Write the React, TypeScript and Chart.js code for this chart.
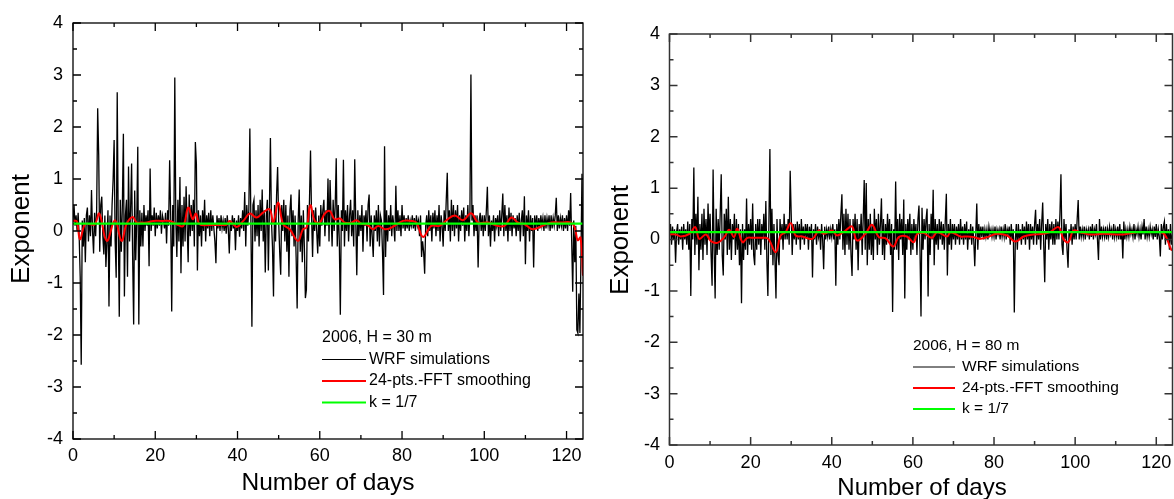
import React, { useEffect, useRef } from "react";
import { Chart, registerables } from "chart.js";

Chart.register(...registerables);

const FONT = '"Liberation Sans", Arial, Helvetica, sans-serif';

// ---------- axes ----------
const dayMin = 0;
const dayMax = 124;
const exponentMin = -4;
const exponentMax = 4;
const xTickValues = [0, 20, 40, 60, 80, 100, 120];
const xMinorValues = [10, 30, 50, 70, 90, 110];
const yTickValues = [-4, -3, -2, -1, 0, 1, 2, 3, 4];
const yMinorValues = [-3.5, -2.5, -1.5, -0.5, 0.5, 1.5, 2.5, 3.5];

// ---------- series ----------
const seriesLabels = ["WRF simulations", "24-pts.-FFT smoothing", "k = 1/7"];
const kValue = 1 / 7;
const wrfStepDays = 0.25; // one WRF value every 6 hours, starting at day 0

// H = 30 m
const wrf30Values = [
  0.2,0.5,0.1,0.3, 0.0,0.35,-0.1,-0.88, -2.57,0.2,-0.3,0.25, -0.6,0.3,0.45,-0.2, 0.3,-0.1,0.79,0.0,
  -0.43,0.35,-0.1,0.4, 2.36,1.46,-0.4,0.5, 0.66,-0.1,-0.45,0.3, -0.69,-0.2,0.4,-1.45, 0.3,-0.3,0.5,0.98,
  1.75,-0.2,-0.9,2.67, 0.1,-1.65,0.6,-0.4, 0.5,1.87,-1.26,0.3, 0.6,-0.88,1.24,-0.2, 0.4,1.3,-0.5,-1.8,
  0.78,-0.56,0.2,1.62, -1.8,0.4,-0.3,0.35, -0.3,0.5,0.0,0.3, 0.1,0.4,-0.68,1.2, 0.0,0.3,0.1,0.45,
  -0.1,0.35,0.05,0.3, 0.1,0.4,-0.05,0.3, 0.2,0.05,0.35,-0.24, 0.4,0.1,1.36,0.3, -1.55,0.5,-0.3,2.95,
  0.2,-0.5,0.6,-0.2, 1.04,-0.81,0.5,-0.3, 0.66,-0.2,0.86,0.1, -0.6,0.7,-0.1,0.5, 0.0,0.6,-0.3,1.71,
  1.3,-0.76,0.4,-0.1, 0.3,-0.3,0.4,0.0, 0.6,-0.2,0.3,0.05, 0.35,-0.1,0.4,0.0, 0.3,0.05,-0.2,-0.62,
  0.3,0.05,0.25,0.0, 0.3,0.05,0.2,0.0, 0.25,-0.05,0.3,0.05, -0.43,0.2,0.0,0.3, 0.05,0.25,-0.37,0.2,
  0.0,0.3,-0.11,0.25, 0.05,0.4,0.0,0.75, -0.3,0.5,0.1,0.4, 1.97,0.2,-1.84,0.5, 0.6,-0.2,0.4,-0.1,
  0.5,-0.3,0.6,0.0, 0.8,-0.2,0.4,-0.8, 0.3,0.6,-0.76,0.4, 1.79,0.2,-0.3,-1.26, 0.5,-0.2,0.7,1.23,
  0.2,-0.4,-0.84,0.5, 0.0,0.6,-0.2,0.5, -0.4,0.3,-0.88,0.4, 0.7,-0.1,0.4,-0.3, 0.3,-0.5,-1.49,0.2,
  0.8,-0.4,0.3,-0.6, 0.4,-0.3,-1.29,-1.13, 0.5,-0.2,0.6,1.55, 0.3,-0.5,0.4,0.0, 0.45,0.0,-0.43,0.3,
  -0.3,0.5,0.1,0.4, 0.6,-0.1,0.4,0.1, 1.01,-0.2,0.98,0.3, -0.3,0.6,0.0,0.5, 1.4,-0.3,0.5,-0.2,
  -1.61,0.4,0.0,1.37, -0.3,0.4,0.0,0.5, -0.2,0.3,0.6,-0.1, 0.4,-0.3,1.38,0.2, -0.85,0.4,-0.1,0.3,
  0.0,0.5,-0.4,0.3, 0.1,0.4,-0.2,0.5, 0.7,-0.3,0.3,-0.1, -0.5,0.3,0.0,0.4, -0.2,0.5,-0.3,0.3,
  0.2,-0.4,-1.23,1.63, -0.5,0.4,-0.2,0.3, 0.0,0.5,-0.1,0.3, 0.1,-0.2,0.87,0.0, 0.4,0.0,0.3,-0.1,
  0.5,0.05,0.3,0.0, 0.25,0.05,0.3,0.0, 0.2,0.1,0.3,0.05, 0.25,0.0,0.3,0.1, 0.2,-0.1,0.3,-0.5,
  -0.2,-0.4,-0.82,0.1, 0.3,-0.1,0.4,0.0, 0.3,-0.2,0.35,0.05, 0.4,-0.1,0.3,0.0, 0.5,-0.2,0.3,0.1,
  -0.3,0.4,0.0,0.6, 1.12,0.0,0.4,-0.2, 0.6,0.0,0.5,-0.1, 0.4,0.05,0.5,-0.2, 0.3,0.0,0.4,0.1,
  0.45,-0.2,0.3,0.0, 0.5,-0.1,0.3,3.01, 0.2,0.5,-0.1,0.3, 0.0,0.3,-0.7,0.2, 0.35,0.0,0.3,-0.1,
  0.3,0.0,0.4,0.85, -0.1,0.3,-0.3,0.2, 0.0,0.3,-0.2,0.25, 0.1,0.3,-0.1,0.4, 0.0,0.3,0.72,-0.1,
  0.5,0.0,0.3,-0.2, 0.45,0.0,0.35,-0.1, 0.3,0.05,0.25,-0.1, 0.3,0.0,0.35,-0.2, 0.2,0.4,-0.1,0.67,
  -0.64,0.3,0.0,0.4, -0.2,0.3,0.0,0.25, -0.7,0.3,0.05,0.3, 0.0,0.25,0.05,0.3, 0.1,0.25,0.0,0.3,
  0.05,0.25,0.1,0.3, 0.0,0.3,0.05,0.25, 0.1,0.3,0.64,0.0, 0.3,0.05,0.25,0.1, 0.3,0.0,0.25,0.05,
  0.3,0.0,0.4,0.1, 0.73,-0.2,-1.17,0.2, -0.6,0.1,-1.9,-1.96, -1.2,-1.96,-0.5,1.1, -0.8,
];
const fft30Days = [
  0,0.9,1.7,2.9,4.1,5.3,6.4,8.2,10.2,11.8,13.0,14.5,15.5,16.7,17.9,19.5,21.5,23.6,25.2,26.8,
  28.0,29.1,29.9,30.8,33.3,35.7,37.3,38.1,39.8,41.4,43.0,44.6,46.2,47.8,48.7,49.9,51.1,52.7,54.7,55.9,
  56.8,57.7,58.8,60.0,61.2,62.4,63.6,64.9,66.1,67.7,68.9,70.1,71.7,72.95,74.2,75.8,77.4,80.2,82.3,83.5,
  85.1,87.1,89.1,90.8,92.8,94.8,96.8,98.5,100.9,103.3,104.9,106.6,108.2,109.8,111.8,114.7,116.3,118.7,121.1,122.0,
  122.7,123.4,124,
];
const fft30Values = [
  0.19,0.19,-0.16,0.13,0.13,0.13,0.335,-0.19,0.207,-0.19,0.13,0.27,0.162,0.162,0.162,0.194,0.194,0.194,0.13,0.098,
  0.45,0.226,0.335,0.13,0.117,0.117,0.117,0.194,0.079,0.194,0.335,0.258,0.354,0.418,0.162,0.546,0.13,0.034,-0.19,0.034,
  0.066,0.495,0.194,0.162,0.335,0.386,0.226,0.24,0.16,0.16,0.207,0.143,0.11,0.034,0.098,0.034,0.066,0.194,0.194,0.162,
  -0.113,0.098,0.098,0.207,0.3,0.207,0.34,0.162,0.162,0.098,0.098,0.258,0.162,0.13,0.034,0.117,0.162,0.162,0.162,0.066,
  -0.177,-0.126,-0.86,
];

// H = 80 m
const wrf80Values = [
  0.1,0.3,-0.1,0.25, 0.0,0.2,-0.45,0.15, 0.3,-0.1,0.2,0.0, 0.25,-0.2,0.3,0.0, 0.2,-0.1,0.35,-0.2,
  0.3,-1.1,0.4,0.0, 1.4,-0.3,0.5,-0.1, 0.83,-0.6,0.3,-0.2, 0.5,-0.4,0.6,-0.1, 0.4,-0.3,0.7,0.0,
  0.5,-0.3,-0.9,1.36, -0.2,-1.15,0.6,-0.3, 0.4,-0.2,0.5,1.27, -0.3,-0.7,0.5,0.0, 0.6,-0.3,0.83,-0.2,
  0.4,-0.4,0.3,0.0, 0.5,-0.3,0.4,-0.2, 0.3,-0.5,0.2,-1.24, 0.3,-0.4,0.2,-0.2, 0.8,-0.3,0.3,-0.1,
  0.4,-0.2,0.7,-0.3, -0.5,0.3,-0.2,0.4, -0.1,0.4,-0.3,0.3, 0.0,0.5,-0.2,0.75, -0.4,-1.1,0.3,1.76,
  -0.3,0.6,-0.5,0.3, -0.4,-1.15,0.4,-0.3, -0.5,0.4,0.0,0.3, -0.2,0.5,0.0,0.3, 0.0,0.4,-0.1,1.34,
  0.5,-0.3,0.3,0.0, 0.3,-0.1,0.35,0.0, 0.3,-0.2,0.4,0.0, 0.25,-0.1,0.3,0.05, 0.3,-0.2,0.25,0.0,
  0.3,-0.74,0.2,0.0, 0.3,-0.1,0.25,0.05, 0.2,-0.2,0.3,0.0, -0.58,0.25,0.0,0.2, 0.05,0.25,0.0,0.2,
  0.05,0.3,0.0,0.2, -0.9,0.3,-0.1,0.4, 0.0,0.5,0.88,-0.2, 0.5,-0.3,0.6,-0.1, 0.5,-0.2,0.4,-0.3,
  -0.71,0.4,0.0,0.5, -0.2,0.4,-0.6,0.3, 0.0,0.5,-0.3,0.4, 1.16,-0.2,1.1,-0.5, 0.4,-0.2,0.5,-0.3,
  0.3,-0.4,0.6,0.0, 0.4,-0.3,0.5,-0.1, 0.3,0.8,-0.3,0.4, -0.4,0.3,-0.1,0.5, 0.0,0.4,-0.3,0.3,
  -1.41,0.2,-0.2,1.13, -0.2,0.4,-0.4,0.5, 0.0,0.4,-0.3,0.78, -1.15,0.3,-0.2,0.4, 0.0,0.5,-0.3,0.3,
  -0.2,0.4,0.0,0.3, -0.3,0.4,0.66,-0.2, -1.5,0.62,-0.2,0.4, 0.0,0.4,0.6,-1.11, 0.3,-0.3,0.5,0.0,
  0.97,-0.5,0.4,-0.1, 0.3,-0.2,0.4,0.0, 0.35,-0.1,0.3,-0.2, 0.4,0.89,-0.7,0.3, -0.1,0.4,-0.2,0.3,
  0.0,0.3,-0.1,0.25, 0.0,0.3,-0.1,0.4, 0.0,0.25,-0.1,0.3, 0.0,0.35,-0.2,0.2, 0.0,0.3,-0.1,0.25,
  0.0,-0.52,0.1,0.7, -0.2,0.3,0.0,0.25, 0.05,0.25,0.0,0.2, 0.05,0.2,0.0,0.25, 0.1,0.2,0.05,0.2,
  0.05,0.25,0.0,0.2, 0.1,0.2,0.0,0.25, 0.05,0.2,0.05,0.3, 0.0,0.2,0.1,0.25, -0.1,0.3,0.0,0.2,
  -1.42,0.0,0.3,-0.2, 0.3,0.0,0.2,-0.1, 0.3,0.0,0.25,-0.1, 0.35,0.0,0.3,-0.2, 0.3,0.0,0.25,-0.1,
  0.3,0.58,-0.1,0.3, 0.0,0.4,-0.2,0.3, 0.72,-0.1,-0.83,0.3, 0.0,0.4,-0.2,0.3, 0.0,0.35,-0.1,0.3,
  -0.1,0.4,0.0,0.35, 0.0,0.5,1.27,-0.1, -0.3,0.4,0.0,0.3, -0.2,-0.55,0.2,0.0, 0.3,-0.1,0.25,0.0,
  0.3,0.0,0.4,0.77, 0.0,0.25,0.05,0.2, 0.05,0.25,0.0,0.2, 0.1,0.2,0.0,0.25, 0.05,0.3,0.0,0.2,
  0.1,0.3,0.0,-0.4, 0.4,0.0,0.25,0.05, 0.2,0.05,0.25,0.0, 0.2,0.05,0.25,0.1, 0.2,0.0,0.3,0.05,
  0.2,0.05,0.25,0.0, 0.3,0.0,0.2,-0.37, 0.35,0.0,0.2,0.05, 0.2,0.05,0.25,0.1, 0.2,0.05,0.3,0.0,
  0.2,0.1,0.25,0.05, 0.2,0.0,0.25,0.1, 0.4,0.0,0.25,0.05, 0.2,0.05,0.25,0.1, 0.2,0.0,0.25,0.05,
  0.3,0.0,0.2,0.05, -0.33,0.3,0.0,0.25, 0.35,-0.1,0.3,0.0, 0.2,-0.2,0.3,-0.1, 0.1,
];
const fft80Days = [
  0,1.6,2.8,4.9,6.35,7.33,8.97,10.2,11.8,13.5,14.7,15.9,16.7,18.0,19.2,20.4,22.1,23.7,24.5,26.2,
  27.4,28.6,29.9,31.1,32.7,35.2,36.8,38.0,40.1,41.3,43.4,45.0,46.2,48.3,49.9,51.6,53.2,55.2,56.5,58.5,
  60.2,61.1,62.7,64.7,66.0,68.4,69.3,71.7,73.3,75.0,76.6,78.3,80.7,83.2,85.2,87.3,89.7,92.2,93.8,95.9,
  97.1,98.3,99.6,101.2,103.7,107.0,111.9,115.1,118.4,121.7,123.7,124,
];
const fft80Values = [
  0.098,0.098,0.059,0.11,0.24,0.013,0.098,-0.032,-0.065,0.046,0.19,0.046,0.21,-0.052,0.033,0.033,0.033,0.033,0.0,-0.246,
  0.078,0.143,0.318,0.078,0.059,0.013,0.175,0.11,0.175,0.078,0.175,0.253,-0.019,0.11,0.286,0.046,0.026,-0.136,0.046,0.059,
  -0.052,0.11,0.124,0.033,0.143,0.059,0.143,0.059,0.059,0.046,0.013,0.046,0.11,0.078,-0.039,0.059,0.098,0.11,0.143,0.24,
  0.013,-0.052,0.175,0.143,0.098,0.11,0.098,0.143,0.143,0.124,-0.2,-0.2,
];

// ---------- panel layout ----------
interface PanelSpec {
  pageLeft: number;
  width: number;
  height: number;
  areaTop: number;
  padRight: number;
  yAxisWidth: number;
  xAxisHeight: number;
  xTickPad: number;
  yTickPad: number;
  tickFontSize: number;
  frameColor: string;
  frameWidth: number;
  xTitleX: number;
  xTitleY: number;
  yTitleX: number;
  yTitleY: number;
  xTitleFontSize: number;
  yTitleFontSize: number;
  legendTitle: string;
  legendX: number;
  legendY: number;
  legendRowGap: number;
  legendLineLen: number;
  legendTextGap: number;
  legendFontSize: number;
  wrf: number[];
  fftDays: number[];
  fftValues: number[];
}

const panels: PanelSpec[] = [
  {
    pageLeft: 0, width: 590, height: 499,
    areaTop: 23, padRight: 7, yAxisWidth: 73, xAxisHeight: 60,
    xTickPad: 6, yTickPad: 10, tickFontSize: 18,
    frameColor: "#000", frameWidth: 1.3,
    xTitleX: 328, xTitleY: 483, yTitleX: 22, yTitleY: 229,
    xTitleFontSize: 24.5, yTitleFontSize: 26,
    legendTitle: "2006, H = 30 m", legendX: 322, legendY: 338, legendRowGap: 21.5,
    legendLineLen: 44, legendTextGap: 3, legendFontSize: 16,
    wrf: wrf30Values, fftDays: fft30Days, fftValues: fft30Values,
  },
  {
    pageLeft: 590, width: 584, height: 499,
    areaTop: 34, padRight: 1.5, yAxisWidth: 79.5, xAxisHeight: 54,
    xTickPad: 7, yTickPad: 9.5, tickFontSize: 18,
    frameColor: "#333", frameWidth: 1.5,
    xTitleX: 332, xTitleY: 488, yTitleX: 31, yTitleY: 240,
    xTitleFontSize: 24, yTitleFontSize: 26,
    legendTitle: "2006, H = 80 m", legendX: 323, legendY: 346, legendRowGap: 21,
    legendLineLen: 42, legendTextGap: 7, legendFontSize: 15.5,
    wrf: wrf80Values, fftDays: fft80Days, fftValues: fft80Values,
  },
];

function makeDecorPlugin(spec: PanelSpec) {
  return {
    id: "decor",
    afterDraw(chart: any) {
      const ctx: CanvasRenderingContext2D = chart.ctx;
      const { left, top, right, bottom } = chart.chartArea;
      const xs = chart.scales.x;
      const ys = chart.scales.y;
      const major = 8;
      const minor = 4;
      ctx.save();
      ctx.strokeStyle = spec.frameColor;
      ctx.lineWidth = spec.frameWidth;
      ctx.beginPath();
      for (const v of xTickValues) {
        const p = xs.getPixelForValue(v);
        ctx.moveTo(p, bottom); ctx.lineTo(p, bottom - major);
        ctx.moveTo(p, top); ctx.lineTo(p, top + major);
      }
      for (const v of xMinorValues) {
        const p = xs.getPixelForValue(v);
        ctx.moveTo(p, bottom); ctx.lineTo(p, bottom - minor);
        ctx.moveTo(p, top); ctx.lineTo(p, top + minor);
      }
      for (const v of yTickValues) {
        const p = ys.getPixelForValue(v);
        ctx.moveTo(left, p); ctx.lineTo(left + major, p);
        ctx.moveTo(right, p); ctx.lineTo(right - major, p);
      }
      for (const v of yMinorValues) {
        const p = ys.getPixelForValue(v);
        ctx.moveTo(left, p); ctx.lineTo(left + minor, p);
        ctx.moveTo(right, p); ctx.lineTo(right - minor, p);
      }
      ctx.stroke();
      ctx.strokeRect(left, top, right - left, bottom - top);

      // axis titles
      ctx.fillStyle = "#000";
      ctx.textAlign = "center";
      ctx.textBaseline = "middle";
      ctx.font = `${spec.xTitleFontSize}px ${FONT}`;
      ctx.fillText("Number of days", spec.xTitleX, spec.xTitleY);
      ctx.save();
      ctx.translate(spec.yTitleX, spec.yTitleY);
      ctx.rotate(-Math.PI / 2);
      ctx.font = `${spec.yTitleFontSize}px ${FONT}`;
      ctx.fillText("Exponent", 0, 0);
      ctx.restore();

      // legend
      ctx.font = `${spec.legendFontSize}px ${FONT}`;
      ctx.textAlign = "left";
      ctx.fillText(spec.legendTitle, spec.legendX, spec.legendY);
      const ds = chart.data.datasets;
      const order = [2, 1, 0];
      order.forEach((idx, row) => {
        const d = ds[idx];
        const y = spec.legendY + spec.legendRowGap * (row + 1);
        ctx.strokeStyle = d.borderColor;
        ctx.lineWidth = idx === 2 ? 1 : d.borderWidth;
        ctx.beginPath();
        ctx.moveTo(spec.legendX, y);
        ctx.lineTo(spec.legendX + spec.legendLineLen, y);
        ctx.stroke();
        ctx.fillStyle = "#000";
        ctx.fillText(d.label, spec.legendX + spec.legendLineLen + spec.legendTextGap, y);
      });
      ctx.restore();
    },
  };
}

function Panel({ spec }: { spec: PanelSpec }) {
  const ref = useRef<HTMLCanvasElement | null>(null);
  useEffect(() => {
    const canvas = ref.current;
    if (!canvas) return;
    const tickFont = { family: FONT, size: spec.tickFontSize };
    const chart = new Chart(canvas, {
      type: "line",
      data: {
        datasets: [
          {
            label: seriesLabels[2],
            data: [
              { x: dayMin, y: kValue },
              { x: dayMax, y: kValue },
            ],
            borderColor: "#00ff00",
            borderWidth: 2.2,
            pointRadius: 0,
            order: 0,
          },
          {
            label: seriesLabels[1],
            data: spec.fftDays.map((d, i) => ({ x: d, y: spec.fftValues[i] })),
            borderColor: "#ff0000",
            borderWidth: 2,
            pointRadius: 0,
            tension: 0.4,
            order: 1,
          },
          {
            label: seriesLabels[0],
            data: spec.wrf.map((v, i) => ({ x: i * wrfStepDays, y: v })),
            borderColor: "#000000",
            borderWidth: 1.3,
            pointRadius: 0,
            tension: 0,
            order: 2,
          },
        ],
      } as any,
      options: {
        animation: false,
        responsive: false,
        devicePixelRatio: 1,
        events: [],
        layout: { padding: { left: 0, top: spec.areaTop, right: spec.padRight, bottom: 0 } },
        plugins: { legend: { display: false }, tooltip: { enabled: false }, title: { display: false } },
        scales: {
          x: {
            type: "linear",
            min: dayMin,
            max: dayMax,
            grid: { display: false, drawTicks: false },
            border: { display: false },
            ticks: {
              font: tickFont,
              color: "#000",
              padding: spec.xTickPad,
              maxRotation: 0,
              callback: (v: any) => String(v),
            },
            afterBuildTicks: (s: any) => {
              s.ticks = xTickValues.map((v) => ({ value: v }));
            },
            afterFit: (s: any) => {
              s.height = spec.xAxisHeight;
              s.paddingLeft = 0;
              s.paddingRight = 0;
            },
          },
          y: {
            type: "linear",
            min: exponentMin,
            max: exponentMax,
            grid: { display: false, drawTicks: false },
            border: { display: false },
            ticks: {
              font: tickFont,
              color: "#000",
              padding: spec.yTickPad,
              callback: (v: any) => String(v),
            },
            afterBuildTicks: (s: any) => {
              s.ticks = yTickValues.map((v) => ({ value: v }));
            },
            afterFit: (s: any) => {
              s.width = spec.yAxisWidth;
              s.paddingTop = 0;
              s.paddingBottom = 0;
            },
          },
        },
      } as any,
      plugins: [makeDecorPlugin(spec)],
    });
    return () => chart.destroy();
  }, [spec]);

  return (
    <canvas
      ref={ref}
      width={spec.width}
      height={spec.height}
      style={{
        position: "absolute",
        left: spec.pageLeft,
        top: 0,
        width: spec.width,
        height: spec.height,
      }}
    />
  );
}

export default function App() {
  return (
    <div
      style={{
        position: "absolute",
        left: 0,
        top: 0,
        width: 1174,
        height: 499,
        background: "#fff",
        overflow: "hidden",
      }}
    >
      {panels.map((p, i) => (
        <Panel key={i} spec={p} />
      ))}
    </div>
  );
}
